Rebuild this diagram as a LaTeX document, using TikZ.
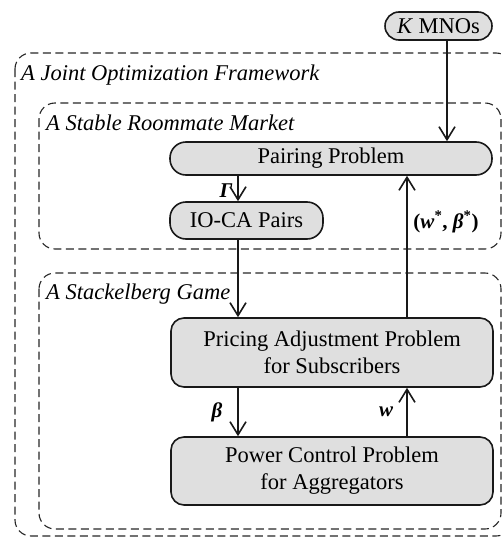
\documentclass[tikz,border=0pt]{standalone}
\usepackage{fontspec}
\setmainfont{Liberation Serif}
\usetikzlibrary{arrows.meta}
\begin{document}
\begin{tikzpicture}[x=1pt,y=-1pt,
  box/.style={draw=black!90,line width=1.6pt,fill=gray!25,rounded corners=13pt,
    inner sep=0pt,align=center,font=\fontsize{22.5}{27}\selectfont},
  frame/.style={draw=black!85,line width=1.1pt,dash pattern=on 8pt off 4.5pt,rounded corners=16pt},
  flow/.style={draw=black!90,line width=1.6pt,-{Straight Barb[length=13pt,width=16pt,line width=1.6pt]}},
  ttl/.style={font=\fontsize{22.5}{27}\selectfont\itshape,anchor=base west,inner sep=0pt},
  lbl/.style={font=\fontsize{21}{24}\selectfont\bfseries\itshape,inner sep=0pt}]
\useasboundingbox (0,0) rectangle (502,538);
\begin{scope}
\clip (0,0) rectangle (502,538);
\draw[frame] (15,53) rectangle (512,536);
\draw[frame] (39,103) rectangle (501,249);
\draw[frame] (39,273) rectangle (501,529);
\end{scope}
\node[ttl] (t1) at (21,80) {A Joint Optimization Framework};
\node[ttl] (t2) at (46,130) {A Stable Roommate Market};
\node[ttl] (t3) at (46,299) {A Stackelberg Game};

\node[box,minimum width=107pt,minimum height=28pt,rounded corners=14pt] (k) at (438.5,26) {\textit{K} MNOs};
\node[box,minimum width=322pt,minimum height=33pt,rounded corners=16pt] (pp) at (331,158.5) {Pairing Problem};
\node[box,minimum width=153pt,minimum height=37pt,rounded corners=16pt] (io) at (246.5,220.5) {IO-CA Pairs};
\node[box,minimum width=322pt,minimum height=69pt] (pa) at (332,352.5) {Pricing Adjustment Problem\\for Subscribers};
\node[box,minimum width=322pt,minimum height=68pt] (pc) at (332,471) {Power Control Problem\\for Aggregators};

\coordinate (xa) at (447,0);
\coordinate (xb) at (238,0);
\coordinate (xc) at (407,0);

\draw[flow] (k.south -| xa) -- (pp.north -| xa);
\draw[flow] (pp.south -| xb) -- (io.north -| xb);
\draw[flow] (io.south -| xb) -- (pa.north -| xb);
\draw[flow] (pa.north -| xc) -- (pp.south -| xc);
\draw[flow] (pa.south -| xb) -- (pc.north -| xb);
\draw[flow] (pc.north -| xc) -- (pa.south -| xc);

\node[lbl] (lg) at (226,191) {Γ};
\node[lbl,font=\fontsize{21}{24}\selectfont\bfseries] (lwb) at (446,222) {(\textit{w}\textsuperscript{*}, \textit{β}\textsuperscript{*})};
\node[lbl] (lb) at (217,412) {β};
\node[lbl] (lw) at (386,412) {w};
\end{tikzpicture}
\end{document}
